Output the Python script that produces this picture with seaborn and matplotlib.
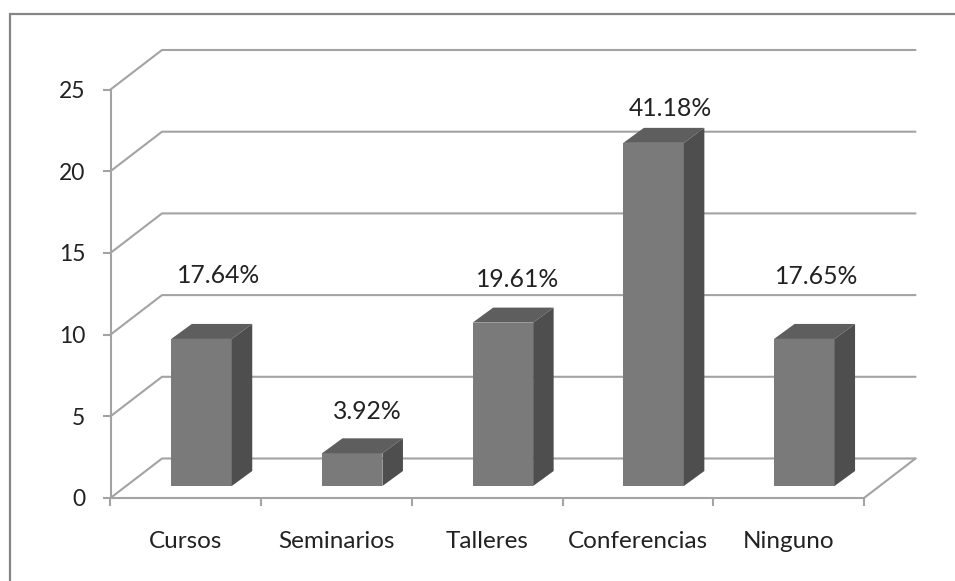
import matplotlib
matplotlib.use("Agg")
import matplotlib.pyplot as plt
from matplotlib.lines import Line2D
from matplotlib.patches import Polygon
import seaborn as sns
import pandas as pd

categories = ["Cursos", "Seminarios", "Talleres", "Conferencias", "Ninguno"]
values = [9, 2, 10, 21, 9]
labels = ["17.64%", "3.92%", "19.61%", "41.18%", "17.65%"]
y_ticks = [0, 5, 10, 15, 20, 25]

W, H = 955, 581
X0, X1, Y0, Y25 = 110.5, 864.0, 498.0, 89.5
PX_X = (X1 - X0) / 5
PX_Y = (Y0 - Y25) / 25
FIRST_BAR_PX = 201.5

sns.set_style("white")
plt.rcParams["font.family"] = ["Lato", "DejaVu Sans"]

fig = plt.figure(figsize=(W / 100, H / 100), dpi=100, facecolor="white")
ax = fig.add_axes([X0 / W, 1 - Y0 / H, (X1 - X0) / W, (Y0 - Y25) / H])
ax.patch.set_alpha(0)

GRID = "#a3a3a3"
FRONT, TOP, SIDE = "#7a7a7a", "#5e5e5e", "#4e4e4e"
TXT = "#222222"
LW = 1.5

xl = (X0 - FIRST_BAR_PX) / PX_X
xr = xl + 5
wall_dx, wall_dy = 51.5 / PX_X, 39.5 / PX_Y
bar_dx, bar_dy = 20.5 / PX_X, 15 / PX_Y
lift = 12 / PX_Y

df = pd.DataFrame({"cat": categories, "val": values})
sns.barplot(data=df, x="cat", y="val", color=FRONT, saturation=1, width=60.5 / PX_X,
            bottom=lift, ax=ax, linewidth=0, zorder=3)
ax.set_xlim(xl, xr)
ax.set_ylim(0, 25)

# Back wall gridlines and floor edge
for t in y_ticks:
    ax.plot([xl, xl + wall_dx, xr + wall_dx], [t, t + wall_dy, t + wall_dy],
            color=GRID, lw=LW, clip_on=False, zorder=1, solid_joinstyle="miter")
ax.plot([xr, xr + wall_dx], [0, wall_dy], color=GRID, lw=LW, clip_on=False, zorder=1)

# Depth faces of each bar
for p in ax.patches[:len(values)]:
    a, b = p.get_x(), p.get_x() + p.get_width()
    lo, hi = p.get_y(), p.get_y() + p.get_height()
    ax.add_patch(Polygon([(a, hi), (b, hi), (b + bar_dx, hi + bar_dy), (a + bar_dx, hi + bar_dy)],
                         closed=True, fc=TOP, ec="none", clip_on=False, zorder=3))
    ax.add_patch(Polygon([(b, lo), (b + bar_dx, lo + bar_dy), (b + bar_dx, hi + bar_dy), (b, hi)],
                         closed=True, fc=SIDE, ec="none", clip_on=False, zorder=3))

# Data labels
label_px = [(17, 63.5), (15, 41.5), (15, 43.5), (17, 34), (12, 62.5)]
for i, (lab, v, (ox, oy)) in enumerate(zip(labels, values, label_px)):
    ax.annotate(lab, (i, v + lift), xytext=(ox * 0.72, oy * 0.72), textcoords="offset points",
                ha="center", va="center", fontsize=17.8, color=TXT, annotation_clip=False, zorder=5)

# Axes
for s in ("top", "right"):
    ax.spines[s].set_visible(False)
for s in ("left", "bottom"):
    ax.spines[s].set_color(GRID)
    ax.spines[s].set_linewidth(LW)
ax.set_xlabel("")
ax.set_ylabel("")
ax.set_yticks(y_ticks)
ax.set_yticklabels([str(t) for t in y_ticks], fontsize=16.5, color=TXT)
ax.tick_params(axis="y", length=6, width=LW, color=GRID, pad=12, left=True)
ax.set_xticks([xl + k for k in range(6)])
ax.set_xticklabels([""] * 6)
ax.set_xticks([xl + k + 0.5 for k in range(5)], minor=True)
ax.set_xticklabels(categories, minor=True, fontsize=17.5, color=TXT)
ax.tick_params(axis="x", which="major", length=6, width=LW, color=GRID, bottom=True)
ax.tick_params(axis="x", which="minor", length=0, pad=24)

# Chart-area border (left and top edges only)
fig.add_artist(Line2D([9.5 / W, 9.5 / W, 1], [0, 1 - 13.5 / H, 1 - 13.5 / H],
                      transform=fig.transFigure, color="#868686", lw=1.6,
                      solid_joinstyle="miter"))

fig.savefig("out.png", dpi=100)
